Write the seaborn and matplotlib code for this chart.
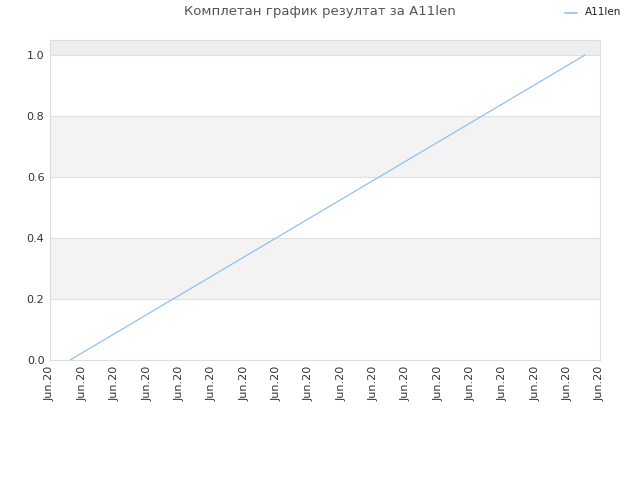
import pandas as pd
import matplotlib
matplotlib.use("Agg")
import matplotlib.pyplot as plt
import seaborn as sns

# data
serie_nombre = "A11len"
x_valores = [0.62, 16.54]
y_valores = [0.0, 1.0]
etiquetas_x = ["Jun.20"] * 18
y_ticks = [0.0, 0.2, 0.4, 0.6, 0.8, 1.0]

df = pd.DataFrame({"x": x_valores, "y": y_valores, "serie": serie_nombre})

sns.set_style("white")
plt.rcParams['font.family'] = ['DejaVu Sans']

fig = plt.figure(figsize=(6.4, 4.8), dpi=100)
ax = fig.add_axes([50/640, 120/480, 550/640, 320/480])

# franjas grises alternas
for lo, hi, c in [(0.2, 0.4, "#f3f3f3"), (0.6, 0.8, "#f3f3f3"), (1.0, 1.2, "#eeeeee")]:
    ax.axhspan(lo, hi, color=c, zorder=0, lw=0)
for t in y_ticks:
    ax.axhline(t, color="#e0e0e0", lw=0.8, zorder=1)

sns.lineplot(data=df, x="x", y="y", hue="serie", palette=["#90c0f5"],
             linewidth=0.9, ax=ax, legend=False, zorder=3)

ax.set_xlim(0, 17)
ax.set_ylim(0, 1.049)
ax.set_xticks(range(len(etiquetas_x)))
ax.set_xticklabels(etiquetas_x, rotation=90, fontsize=8, color="#333333")
ax.set_yticks(y_ticks)
ax.set_yticklabels([f"{v:.1f}" for v in y_ticks], fontsize=8, color="#333333")
ax.tick_params(length=0, pad=4)
ax.set_xlabel("")
ax.set_ylabel("")
for s in ax.spines.values():
    s.set_color("#dddddd")
    s.set_linewidth(0.8)

fig.text(320/640, 1 - 12/480, "Комплетан график резултат за A11len",
         ha="center", va="center", fontsize=9.5, color="#555555")
# leyenda manual arriba a la derecha
fig.lines.append(plt.Line2D([565/640, 577/640], [1 - 13/480, 1 - 13/480],
                            color="#90c0f5", lw=1.2, transform=fig.transFigure))
fig.text(585/640, 1 - 12/480, serie_nombre, ha="left", va="center",
         fontsize=7.5, color="#222222")

fig.savefig("out.png", dpi=100)
